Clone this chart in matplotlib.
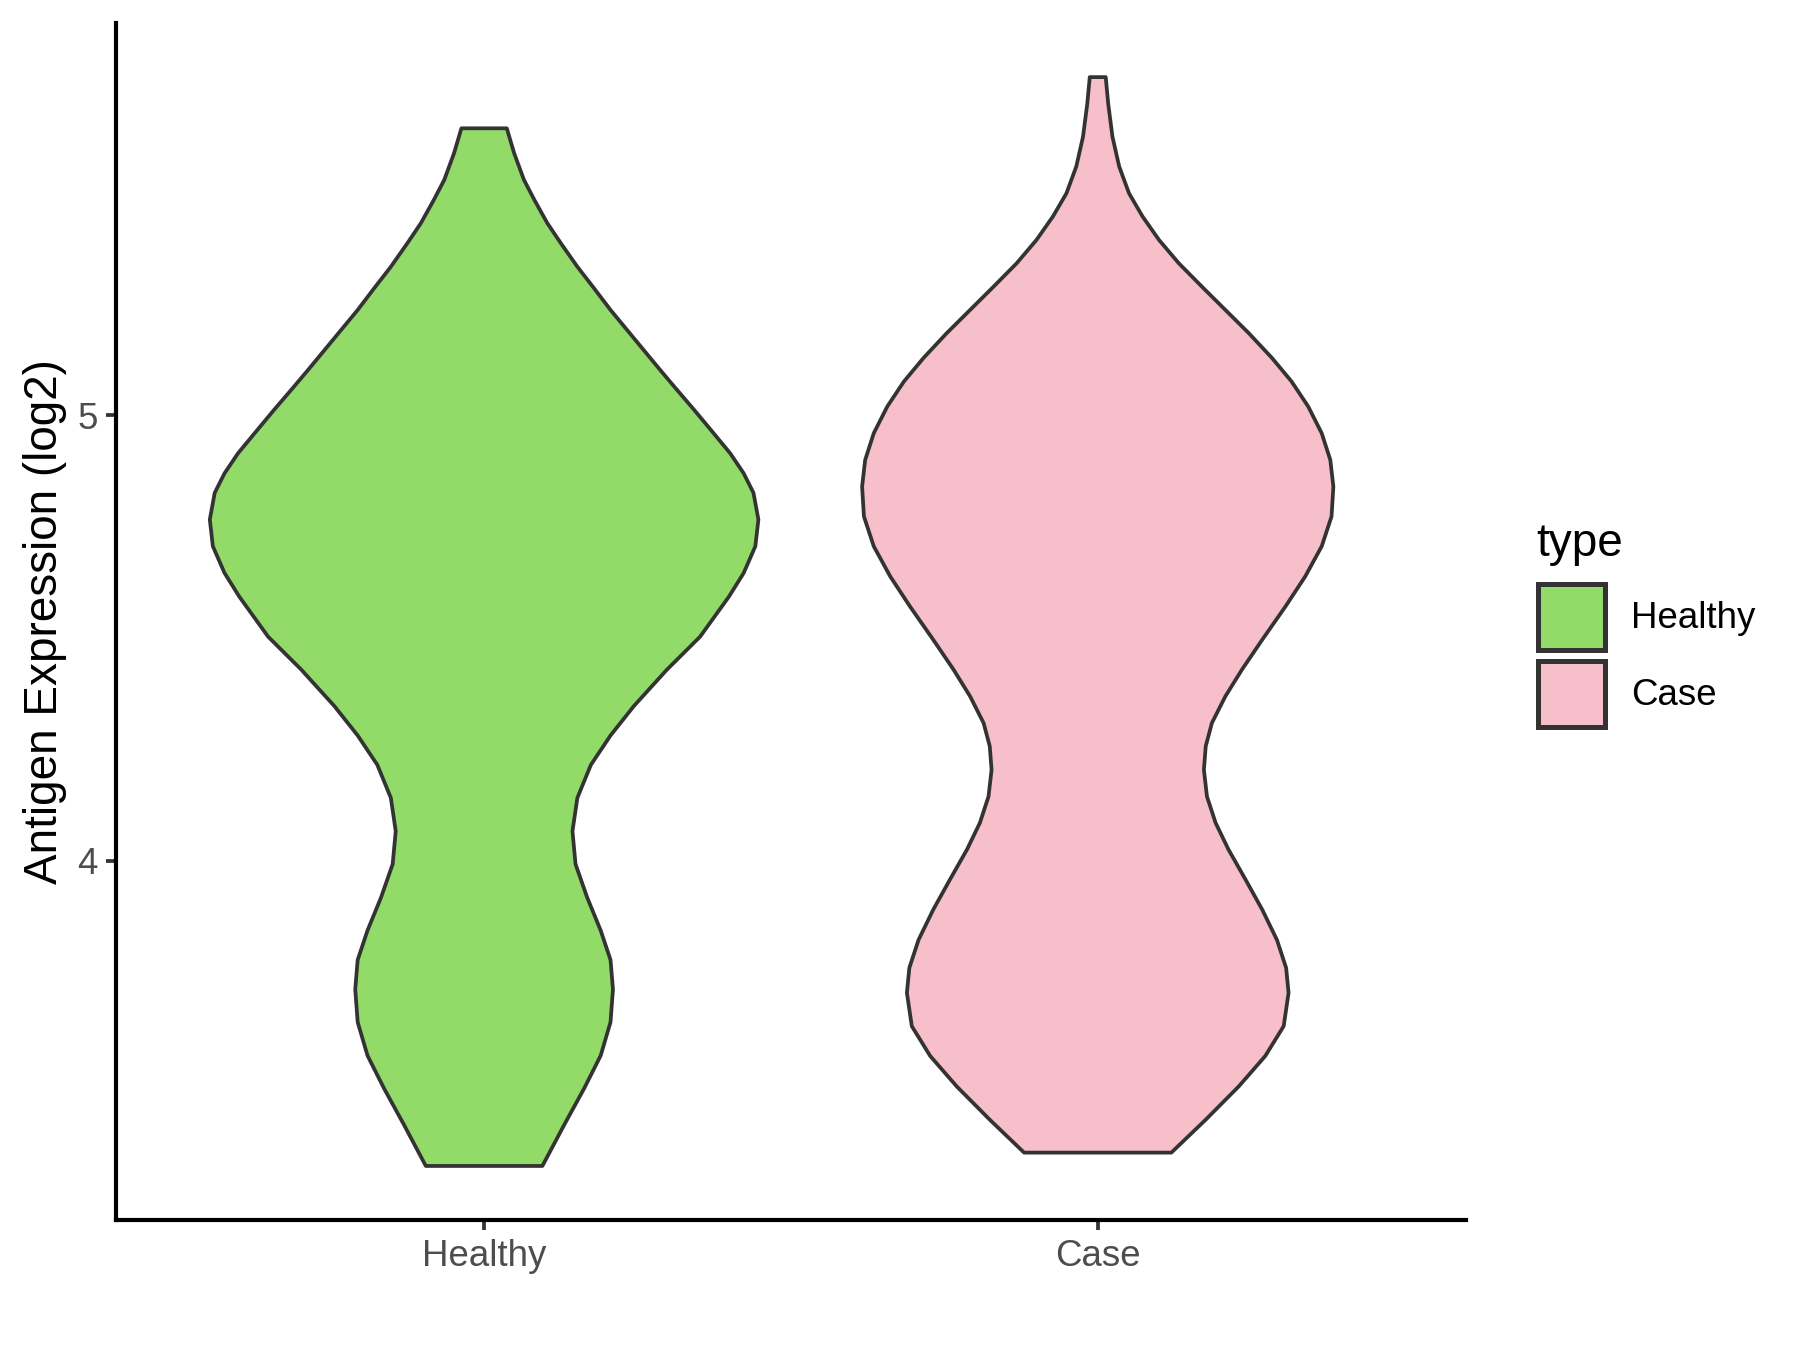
import numpy as np
import matplotlib
matplotlib.use("Agg")
import matplotlib.pyplot as plt
from matplotlib.patches import Patch

plt.rcParams["font.family"] = ["Liberation Sans", "DejaVu Sans"]

# violin outlines: y value and half width (category units)
healthy_y = [5.645, 5.589, 5.529, 5.484, 5.432, 5.387, 5.334, 5.286, 5.237, 5.192,
             5.147, 5.102, 5.058, 5.013, 4.960, 4.915, 4.870, 4.826, 4.766, 4.706,
             4.646, 4.593, 4.503, 4.429, 4.347, 4.281, 4.215, 4.141, 4.066, 3.992,
             3.917, 3.843, 3.777, 3.711, 3.637, 3.562, 3.488, 3.405, 3.314]
healthy_w = [0.037, 0.049, 0.065, 0.082, 0.103, 0.125, 0.152, 0.179, 0.206, 0.233,
             0.260, 0.287, 0.314, 0.342, 0.374, 0.401, 0.423, 0.439, 0.447, 0.442,
             0.423, 0.399, 0.352, 0.298, 0.244, 0.206, 0.174, 0.152, 0.144, 0.149,
             0.168, 0.190, 0.206, 0.210, 0.206, 0.190, 0.163, 0.130, 0.095]

case_y = [5.760, 5.701, 5.626, 5.559, 5.499, 5.447, 5.394, 5.342, 5.289, 5.237,
          5.185, 5.129, 5.076, 5.020, 4.960, 4.900, 4.840, 4.773, 4.706, 4.638,
          4.571, 4.496, 4.429, 4.369, 4.309, 4.257, 4.204, 4.144, 4.085, 4.025,
          3.957, 3.890, 3.822, 3.759, 3.703, 3.628, 3.561, 3.493, 3.418, 3.344]
case_w = [0.013, 0.017, 0.024, 0.035, 0.051, 0.073, 0.100, 0.132, 0.170, 0.208,
          0.246, 0.284, 0.316, 0.343, 0.365, 0.379, 0.384, 0.381, 0.365, 0.338,
          0.306, 0.268, 0.235, 0.208, 0.186, 0.176, 0.173, 0.178, 0.192, 0.213,
          0.241, 0.268, 0.292, 0.307, 0.311, 0.303, 0.273, 0.230, 0.176, 0.120]

groups = ["Healthy", "Case"]
colors = ["#93DB69", "#F7BFCA"]
outlines = [(healthy_y, healthy_w), (case_y, case_w)]

fig = plt.figure(figsize=(6, 4.5), dpi=300)
ax = fig.add_axes([0.0644, 0.0961, 0.75, 0.887])

for i, (ys, ws) in enumerate(outlines):
    pos = i + 1
    ys = np.array(ys)
    ws = np.array(ws)
    xs = np.concatenate([pos - ws, (pos + ws)[::-1]])
    yy = np.concatenate([ys, ys[::-1]])
    ax.fill(xs, yy, facecolor=colors[i], edgecolor="#333333", linewidth=0.9,
            joinstyle="round")

ax.set_xlim(0.4, 2.6)
ax.set_ylim(3.192, 5.882)
ax.set_xticks([1, 2])
ax.set_xticklabels(groups)
ax.set_yticks([4, 5])
ax.set_yticklabels(["4", "5"])
ax.tick_params(axis="both", colors="#333333", labelcolor="#4D4D4D", labelsize=8.8,
               length=2.4, width=0.9, pad=2)
for s in ["top", "right"]:
    ax.spines[s].set_visible(False)
for s in ["left", "bottom"]:
    ax.spines[s].set_linewidth(1.0)
    ax.spines[s].set_color("black")
ax.set_ylabel("Antigen Expression (log2)", fontsize=11, labelpad=2.5)

# legend title drawn on its own, entries below it
fig.text(0.8533, 0.5884, "type", fontsize=11, ha="left", va="baseline")
handles = [Patch(facecolor=c, edgecolor="#333333", linewidth=1.2, label=g)
           for c, g in zip(colors, groups)]
leg = fig.legend(handles=handles, loc="upper left",
                 bbox_to_anchor=(0.8546, 0.5672), frameon=False, fontsize=8.8,
                 handlelength=1.81, handleheight=2.38,
                 labelspacing=0.3, handletextpad=0.72, borderaxespad=0,
                 borderpad=0)

fig.savefig("out.png", dpi=300)
